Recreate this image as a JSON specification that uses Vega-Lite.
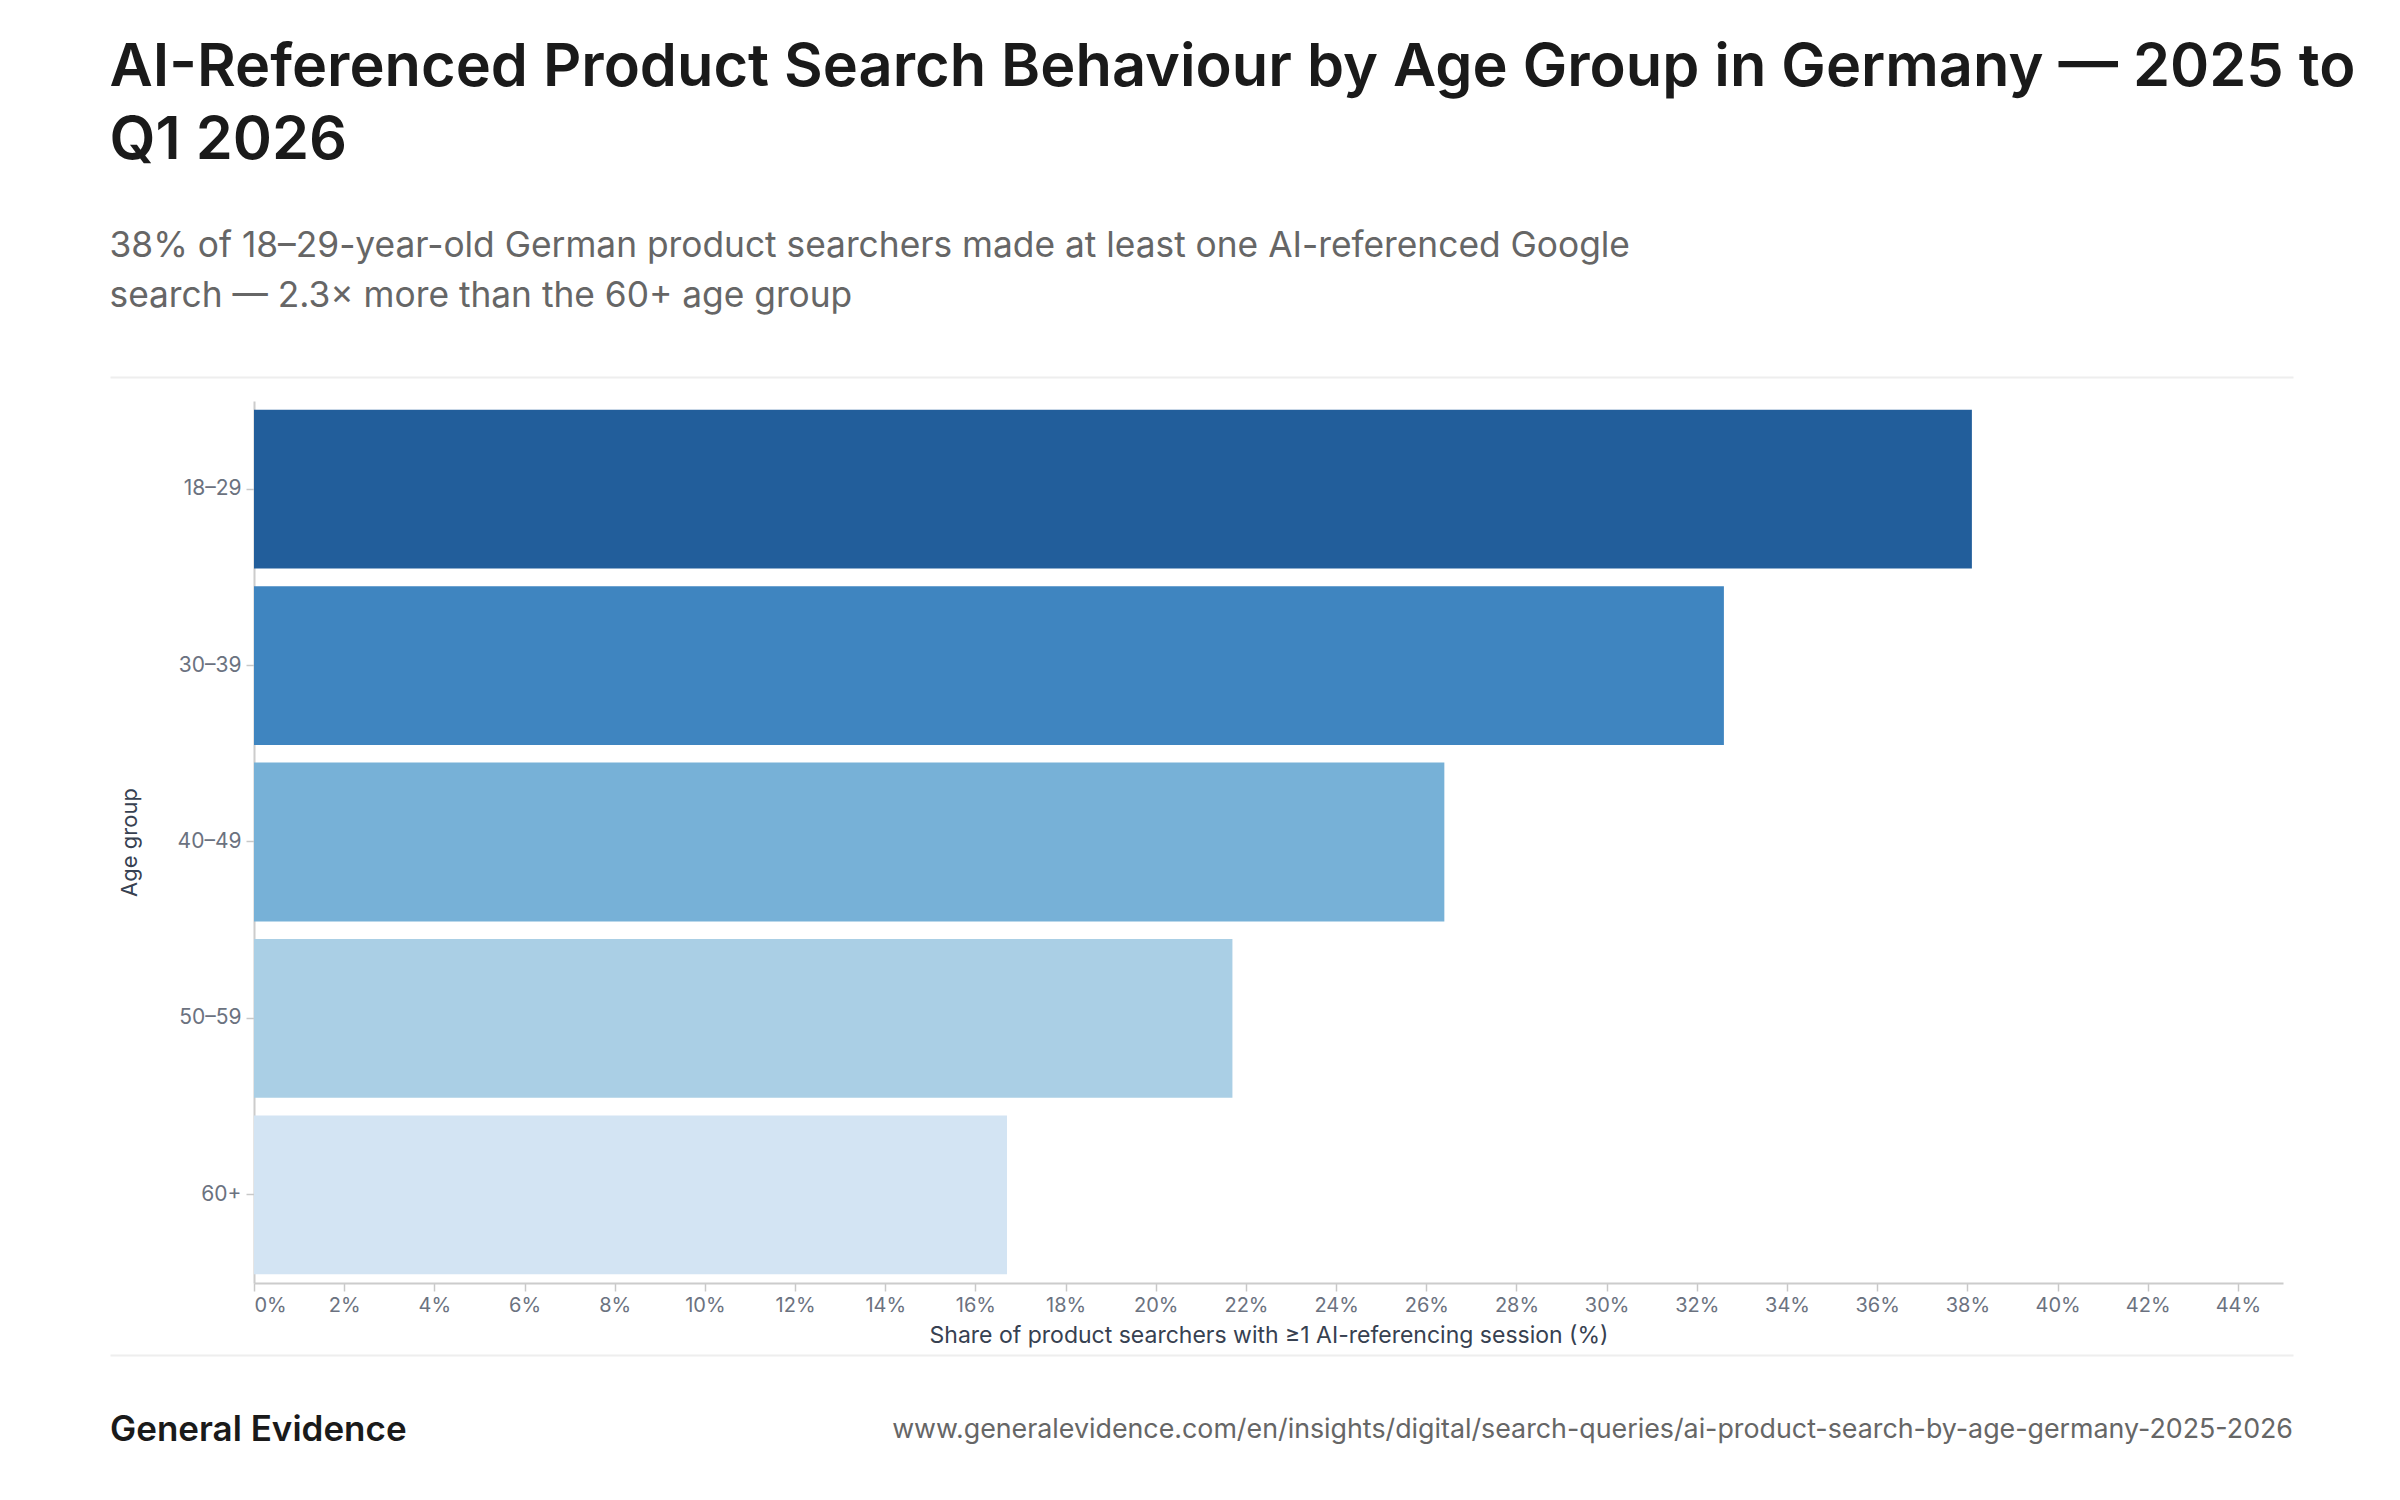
{
  "$schema": "https://vega.github.io/schema/vega-lite/v6.json",
  "background": "white",
  "padding": {"left": 109, "top": 37, "right": 0, "bottom": 0},
  "autosize": {"type": "pad"},
  "config": {
    "font": "Inter",
    "view": {"stroke": "transparent"},
    "axis": {"labelFont": "Inter", "titleFont": "Inter", "grid": false}
  },
  "title": {
    "text": ["AI-Referenced Product Search Behaviour by Age Group in Germany — 2025 to", "Q1 2026"],
    "subtitle": ["38% of 18–29-year-old German product searchers made at least one AI-referenced Google", "search — 2.3× more than the 60+ age group"],
    "anchor": "start",
    "frame": "bounds",
    "font": "Inter",
    "fontSize": 59.5,
    "fontWeight": 600,
    "color": "#1a1a1a",
    "lineHeight": 73,
    "subtitleFont": "Inter",
    "subtitleFontSize": 35.3,
    "subtitleColor": "#666666",
    "subtitleLineHeight": 50,
    "subtitlePadding": 58,
    "offset": 61
  },
  "datasets": {
    "ages": [
      {"age": "18–29", "share": 38.1},
      {"age": "30–39", "share": 32.6},
      {"age": "40–49", "share": 26.4},
      {"age": "50–59", "share": 21.7},
      {"age": "60+", "share": 16.7}
    ],
    "footer": [
      {"role": "brand", "label": "General Evidence"},
      {"role": "source", "label": "www.generalevidence.com/en/insights/digital/search-queries/ai-product-search-by-age-germany-2025-2026"}
    ]
  },
  "columns": 1,
  "align": "none",
  "spacing": 6,
  "concat": [
    {
      "data": {"name": "footer"},
      "width": 2039,
      "height": 16,
      "mark": {"type": "text", "text": ""},
      "encoding": {
        "x": {
          "field": "role",
          "type": "nominal",
          "scale": {"type": "point", "padding": 0, "domain": ["brand", "source"], "range": [-144, 2039]},
          "axis": {"orient": "top", "labels": false, "ticks": false, "title": null, "domainColor": "#eeeeee", "domainWidth": 2}
        }
      }
    },
    {
      "data": {"name": "ages"},
      "width": 2029,
      "height": 882,
      "mark": {"type": "bar"},
      "encoding": {
        "y": {
          "field": "age",
          "type": "nominal",
          "sort": ["18–29", "30–39", "40–49", "50–59", "60+"],
          "scale": {"paddingInner": 0.1, "paddingOuter": 0.05},
          "axis": {
            "title": "Age group",
            "titleFontSize": 22,
            "titleFontWeight": "normal",
            "titleColor": "#374151",
            "titlePadding": 40,
            "labelFontSize": 21,
            "labelColor": "#6b7280",
            "labelPadding": 5,
            "tickSize": 8,
            "tickColor": "#c8c8c8",
            "tickWidth": 1.5,
            "domainColor": "#cccccc",
            "domainWidth": 2,
            "minExtent": 73,
            "maxExtent": 73
          }
        },
        "x": {
          "field": "share",
          "type": "quantitative",
          "scale": {"domain": [0, 45], "nice": false},
          "axis": {
            "values": [0, 2, 4, 6, 8, 10, 12, 14, 16, 18, 20, 22, 24, 26, 28, 30, 32, 34, 36, 38, 40, 42, 44],
            "labelExpr": "datum.value + '%'",
            "title": "Share of product searchers with ≥1 AI-referencing session (%)",
            "titleFontSize": 23,
            "titleFontWeight": "normal",
            "titleColor": "#374151",
            "titlePadding": 9,
            "labelFontSize": 20,
            "labelColor": "#6b7280",
            "labelPadding": 4,
            "tickSize": 8,
            "tickColor": "#c8c8c8",
            "tickWidth": 1.5,
            "domainColor": "#cccccc",
            "domainWidth": 2
          }
        },
        "color": {
          "field": "age",
          "type": "nominal",
          "scale": {
            "domain": ["18–29", "30–39", "40–49", "50–59", "60+"],
            "range": ["#225e9b", "#3f85c0", "#77b1d7", "#aacfe5", "#d3e4f3"]
          },
          "legend": null
        }
      }
    },
    {
      "data": {"name": "footer"},
      "width": 2039,
      "height": 150,
      "encoding": {
        "x": {
          "field": "role",
          "type": "nominal",
          "scale": {"type": "point", "padding": 0, "domain": ["brand", "source"], "range": [-144, 2039]},
          "axis": {"orient": "top", "labels": false, "ticks": false, "title": null, "domainColor": "#eeeeee", "domainWidth": 2}
        },
        "text": {"field": "label"}
      },
      "layer": [
        {
          "transform": [{"filter": "datum.role === 'brand'"}],
          "mark": {"type": "text", "align": "left", "fontSize": 35, "fontWeight": 600, "color": "#1a1a1a", "font": "Inter"}
        },
        {
          "transform": [{"filter": "datum.role === 'source'"}],
          "mark": {"type": "text", "align": "right", "fontSize": 26.8, "color": "#666666", "font": "Inter"}
        }
      ]
    }
  ]
}
